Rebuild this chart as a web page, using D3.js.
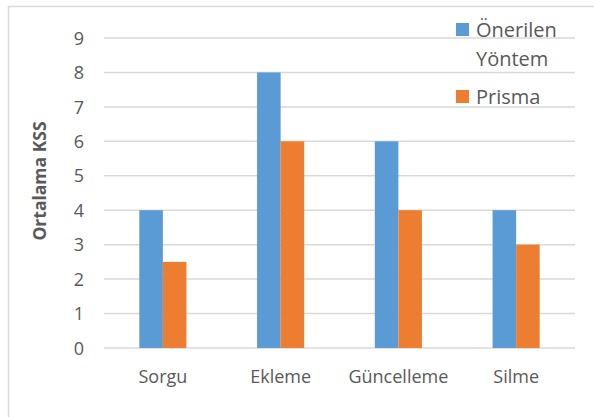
<!DOCTYPE html>
<html>
<head>
<meta charset="utf-8">
<script src="https://cdn.jsdelivr.net/npm/d3@7"></script>
<style>
  html, body { margin: 0; padding: 0; background: #fff; }
  svg { display: block; }
</style>
</head>
<body>
<svg id="chart" width="594" height="417"></svg>
<script>
const categories = ["Sorgu", "Ekleme", "Güncelleme", "Silme"];
const seriesNames = ["Önerilen Yöntem", "Prisma"];
const onerilenValues = [4, 8, 6, 4];
const prismaValues = [2.5, 6, 4, 3];
const yTicks = [0, 1, 2, 3, 4, 5, 6, 7, 8, 9];
const colors = ["#5B9BD5", "#ED7D31"];
const yTitle = "Ortalama KSS";

(function () {
const seriesValues = [onerilenValues, prismaValues];
const font = "'Open Sans', sans-serif";
const textColor = "#595959";
const gridColor = "#D9D9D9";

const svg = d3.select("#chart");

// outer chart border
svg.append("rect")
  .attr("x", 8.5).attr("y", 6.5)
  .attr("width", 620).attr("height", 500)
  .attr("fill", "#fff")
  .attr("stroke", gridColor).attr("stroke-width", 1.5);

const pLeft = 104, pRight = 575, pTop = 38, pBottom = 348;

const x0 = d3.scaleBand().domain(categories).range([pLeft, pRight])
  .paddingInner(0.6).paddingOuter(0.3);
const x1 = d3.scaleBand().domain(d3.range(seriesNames.length))
  .range([0, x0.bandwidth()]).padding(0);
const y = d3.scaleLinear().domain([0, 9]).range([pBottom, pTop]);

// gridlines
svg.append("g").selectAll("line").data(yTicks).join("line")
  .attr("x1", pLeft).attr("x2", pRight)
  .attr("y1", d => y(d)).attr("y2", d => y(d))
  .attr("stroke", gridColor).attr("stroke-width", 1.5);

// y axis labels
const yAxis = d3.axisLeft(y).tickValues(yTicks).tickSize(0).tickPadding(0);
const yg = svg.append("g").attr("transform", `translate(${pLeft - 20},0)`).call(yAxis);
yg.select(".domain").remove();
yg.selectAll("text")
  .attr("font-family", font).attr("font-size", 18)
  .attr("fill", textColor).attr("dy", "0.34em");

// bars
const groups = svg.append("g").selectAll("g").data(categories).join("g")
  .attr("transform", d => `translate(${x0(d)},0)`);
groups.selectAll("rect")
  .data((c, i) => seriesValues.map((vals, s) => ({ s, v: vals[i] })))
  .join("rect")
  .attr("x", d => x1(d.s))
  .attr("width", x1.bandwidth())
  .attr("y", d => y(d.v))
  .attr("height", d => y(0) - y(d.v))
  .attr("fill", d => colors[d.s]);

// x axis labels
const xAxis = d3.axisBottom(x0).tickSize(0).tickPadding(0);
const xg = svg.append("g").attr("transform", `translate(0,${pBottom})`).call(xAxis);
xg.select(".domain").remove();
xg.selectAll("text")
  .attr("font-family", font).attr("font-size", 18)
  .attr("fill", textColor).attr("y", 35).attr("dy", 0);

// y title
svg.append("text")
  .attr("transform", "translate(46,181) rotate(-90)")
  .attr("text-anchor", "middle")
  .attr("font-family", font).attr("font-size", 17.5).attr("font-weight", "bold")
  .attr("fill", textColor)
  .text(yTitle);

// legend
const legendItems = [
  { lines: ["Önerilen", "Yöntem"], color: colors[0], y: 37 },
  { lines: ["Prisma"], color: colors[1], y: 104 }
];
const lg = svg.append("g");
legendItems.forEach((it) => {
  lg.append("rect")
    .attr("x", 456).attr("y", it.y - 14)
    .attr("width", 13).attr("height", 13)
    .attr("fill", it.color);
  const t = lg.append("text")
    .attr("font-family", font).attr("font-size", 20)
    .attr("fill", textColor);
  it.lines.forEach((ln, j) => {
    t.append("tspan").attr("x", 476).attr("y", it.y + j * 29).text(ln);
  });
});
})();
</script>
</body>
</html>
